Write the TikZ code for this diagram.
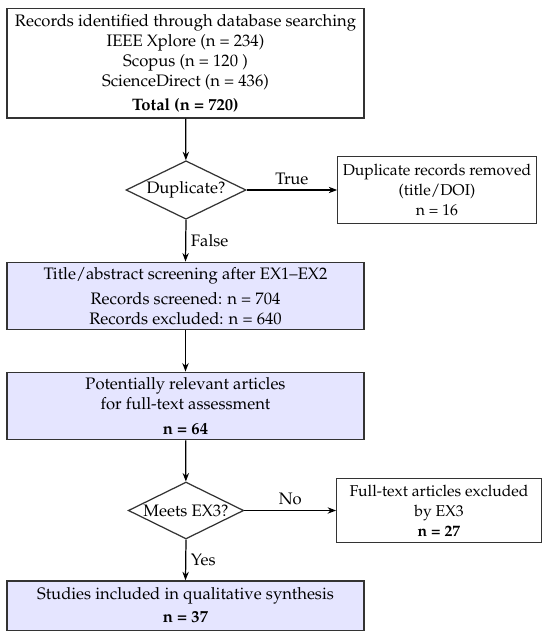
\documentclass[tikz,border=0pt]{standalone}
\usepackage[T1]{fontenc}
\usepackage{mathpazo}
\usepackage{tikz}
\usetikzlibrary{arrows.meta, positioning, shapes.geometric}
\tikzset{
  pbox/.style    = {rectangle, draw=black!80, align=center, inner sep=3pt,
                    line width=0.8pt},
  whitebox/.style = {pbox, fill=white},
  lavbox/.style   = {pbox, fill=blue!10},
  sidebox/.style  = {whitebox, font=\fontsize{10.2pt}{13pt}\selectfont},
  decide/.style  = {diamond, draw=black!80, align=center, aspect=2,
                    inner sep=0pt, line width=0.8pt},
  arr/.style     = {-{Stealth[length=5.5pt]}, line width=0.8pt},
  lbl/.style     = {inner sep=3pt},
}

\begin{document}
\begin{tikzpicture}[x=0.65pt, y=-0.65pt, font=\fontsize{10.8pt}{13pt}\selectfont]
  \useasboundingbox (0,0) rectangle (550,639);

  % Main column
  \node[whitebox, inner ysep=1.5pt, minimum width=232pt, minimum height=71pt] (search) at (185.5,63.5)
    {Records identified through database searching\\
     IEEE Xplore (n = 234)\\
     Scopus (n = 120 )\\
     ScienceDirect (n = 436)\\[3pt]
     \textbf{Total (n = 720)}};
  \node[decide, minimum width=78pt, minimum height=38pt] (dupq) at (186,190) {Duplicate?};
  \node[lavbox, minimum width=232pt, minimum height=44pt] (screen) at (185.5,296)
    {Title/abstract screening after EX1--EX2\\[3pt]
     Records screened: n = 704\\
     Records excluded: n = 640};
  \node[lavbox, minimum width=232pt, minimum height=44pt] (fulltext) at (185.5,406)
    {Potentially relevant articles\\
     for full-text assessment\\[3pt]
     \textbf{n = 64}};
  \node[decide, minimum width=75pt, minimum height=37pt] (ex3q) at (186,510.5) {Meets EX3?};
  \node[lavbox, minimum width=232pt, minimum height=32pt] (incl) at (185.5,605.5)
    {Studies included in qualitative synthesis\\[2pt]
     \textbf{n = 37}};

  % Side boxes
  \node[sidebox, minimum width=129pt, minimum height=43.5pt] (dup) at (437,190)
    {Duplicate records removed\\
     (title/DOI)\\
     n = 16};
  \node[sidebox, minimum width=133pt, minimum height=41.6pt] (excl) at (439,510.5)
    {Full-text articles excluded\\
     by EX3\\
     \textbf{n = 27}};

  % Connectors
  \draw[arr] (search) -- (dupq);
  \draw[arr] (dupq.east) -- node[lbl, above] {True} (dup.west);
  \draw[arr] (dupq.south) -- node[lbl, right] {False} (screen.north);
  \draw[arr] (screen) -- (fulltext);
  \draw[arr] (fulltext) -- (ex3q);
  \draw[arr] (ex3q.east) -- node[lbl, above] {No} (excl.west);
  \draw[arr] (ex3q.south) -- node[lbl, right] {Yes} (incl.north);
\end{tikzpicture}
\end{document}
